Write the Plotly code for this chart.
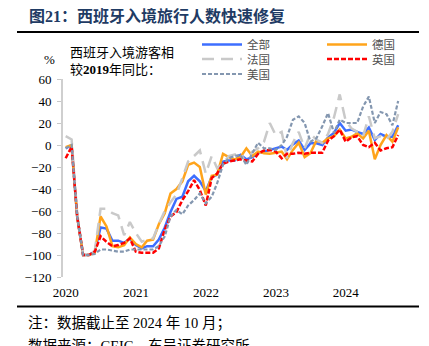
import plotly.graph_objects as go
import pandas as pd

# ---- data (monthly, Jan 2020 - Oct 2024), % vs 2019 ----
months = pd.date_range("2020-01-01", "2024-10-01", freq="MS")

total = [-3, 0, -65, -100, -100, -97, -75, -76, -87, -87, -89, -85, -91, -94, -92, -92, -86, -75, -61, -49,
         -47, -33, -28, -33, -42, -29, -27, -15, -14, -14, -9, -13, -11, -7, -6, -4.5, -3, -1.5, -4.5, 0.6,
         4, -4.5, 1.5, 1.5, 0, 7, 11, 20, 13, 14, 12, 10, 16, 4.5, 10, 7.5, 7.5, 18]
germany = [-2, 0, -65, -100, -100, -98, -65, -74, -92, -93, -91, -84, -90, -93, -87, -86, -72, -62, -44, -40,
           -33, -18, -16, -20, -45, -28, -27, -8, -11, -13, -11, -3, -10, -6, -7.5, -8, -7, -6, -13, -4.5,
           2, -11, -7.5, 4, 2, 6, 8, 14, 6, 7.5, 10.6, 6, 13, -13, 0, 9, 3, 16]
france = [8, 5, -62, -100, -100, -96, -58, -58, -62, -64, -82, -70, -80, -88, -86, -85, -72, -60, -52, -45,
          -30, -15, -10, -5, -26, -10, -21, -17, -10, -9, -7.5, -17, -6, -3, 3, 20, 9, 12, -12, 2,
          12, -3, 10, 5, 2, 10, 25, 46, 22, 15, 12, 8, 26, 6, 8, 5, 12, 28]
uk = [-12, -1.5, -65, -100, -100, -97, -83, -88, -92, -91, -89, -85, -97, -98, -98, -98, -94, -77, -65, -61,
      -50, -42, -32, -41, -55, -30, -26, -17, -15, -14, -13, -14, -15, -8, -5, -4.5, -6, -12, -8, -8,
      -7, -8, -7, -7, -7, 4, 8, 14, 3, 7, 8, 0, -2, 2, -5, -3, -2, 9]
usa = [-3, 0, -65, -100, -100, -99, -95, -95, -96, -97, -97, -95, -95, -95, -95, -95, -92, -83, -65, -59,
       -63, -55, -50, -44, -53, -47, -35, -18, -12, -10, -9, -18, -7.5, 2, -3, -3, -4.5, 0, 7.5, 23,
       26, 20, 3, 6, 17, 29, 11, 23, 20, 20, 20, 35, 44, 20, 30, 28, 18, 40]

series_names = ["全部", "德国", "法国", "英国", "美国"]
year_labels = ["2020", "2021", "2022", "2023", "2024"]
y_ticks = [-120, -100, -80, -60, -40, -20, 0, 20, 40, 60]

# ---- geometry ----
W, H = 429, 346
L, R, T, B = 63, 402, 79, 277


def px_x(px):
    return (px - L) / (R - L)


def px_y(py):
    return (B - py) / (B - T)


xpos = months + pd.Timedelta(days=14)
year_starts = [f"{y}-01-01" for y in year_labels]
label_pos = [f"{y}-01-16" for y in year_labels]
x_range = ["2020-01-01", "2024-11-04"]

styles = [
    dict(color="#3D6EFF", dash="solid", width=2.5, legend="legend"),
    dict(color="#FFA41B", dash="solid", width=2.5, legend="legend"),
    dict(color="#C9C9C9", dash="12px,7px", width=2.5, legend="legend2"),
    dict(color="#FF0000", dash="5px,2px", width=2.5, legend="legend2"),
    dict(color="#8497B0", dash="4px,2px", width=2.2, legend="legend3"),
]
data = [total, germany, france, uk, usa]

fig = go.Figure()
for name, vals, st in zip(series_names, data, styles):
    fig.add_trace(go.Scatter(
        x=xpos, y=vals, mode="lines", name=name,
        line=dict(color=st["color"], dash=st["dash"], width=st["width"]),
        legend=st["legend"], hoverinfo="skip",
    ))

serif = "Liberation Serif, Noto Sans CJK SC"
cjk = "Liberation Serif, Noto Sans CJK SC"

leg_common = dict(orientation="h", xanchor="left", yanchor="middle",
                  bgcolor="rgba(0,0,0,0)", borderwidth=0,
                  font=dict(family="Noto Sans CJK SC", size=11.5, color="#505050"),
                  entrywidth=70, entrywidthmode="pixels", itemwidth=40,
                  tracegroupgap=0, itemclick=False)

fig.update_layout(
    width=W, height=H,
    margin=dict(l=L, r=W - R, t=T, b=H - B, autoexpand=False),
    paper_bgcolor="white", plot_bgcolor="white",
    showlegend=True,
    legend=dict(x=px_x(197), y=px_y(44.5), **leg_common),
    legend2=dict(x=px_x(197), y=px_y(59), **leg_common),
    legend3=dict(x=px_x(197), y=px_y(74), **leg_common),
    xaxis=dict(type="date", range=x_range, tickvals=label_pos, ticktext=year_labels,
               ticks="", showline=False, showgrid=False, zeroline=False,
               tickfont=dict(family=serif, size=13, color="#000000"),
               ticklabelstandoff=6),
    xaxis2=dict(type="date", range=x_range, overlaying="x", anchor="free",
                position=px_y(145), showline=True, linecolor="#A6A6A6", linewidth=1,
                ticks="outside", ticklen=3, tickcolor="#A6A6A6", tickvals=year_starts,
                showticklabels=False, showgrid=False, zeroline=False),
    yaxis=dict(range=[-120, 60], tickvals=y_ticks, ticks="outside", ticklen=4,
               tickcolor="#C8C8C8", showline=True, linecolor="#CFCFCF", linewidth=2,
               showgrid=False, zeroline=False,
               tickfont=dict(family=serif, size=13, color="#000000"),
               ticklabelstandoff=3),
)

annotations = [
    dict(text="<b>图21：西班牙入境旅行人数快速修复</b>", x=px_x(27), y=px_y(16),
         xanchor="left", yanchor="middle", font=dict(family=cjk, size=16, color="#1F3B64")),
    dict(text="%", x=px_x(49), y=px_y(59), xanchor="center", yanchor="middle",
         font=dict(family=serif, size=13, color="#000000")),
    dict(text="西班牙入境游客相<br>较<b>2019</b>年同比：", x=px_x(68), y=px_y(60.5),
         xanchor="left", yanchor="middle", align="left",
         font=dict(family=cjk, size=13, color="#000000")),
    dict(text="注：数据截止至 2024 年 10 月；", x=px_x(26), y=px_y(323),
         xanchor="left", yanchor="middle", font=dict(family=cjk, size=14.5, color="#000000")),
    dict(text="数据来源：CEIC，东吴证券研究所", x=px_x(26), y=px_y(336),
         xanchor="left", yanchor="top", font=dict(family=cjk, size=14.5, color="#000000")),
]
for a in annotations:
    a.update(xref="paper", yref="paper", showarrow=False)
fig.update_layout(annotations=annotations)

fig.update_layout(shapes=[
    dict(type="line", xref="paper", yref="paper", x0=px_x(17), x1=px_x(419),
         y0=px_y(32), y1=px_y(32), line=dict(color="#000000", width=2)),
    dict(type="line", xref="paper", yref="paper", x0=px_x(17), x1=px_x(419),
         y0=px_y(306.5), y1=px_y(306.5), line=dict(color="#000000", width=2)),
])

fig.write_html("out.html")
